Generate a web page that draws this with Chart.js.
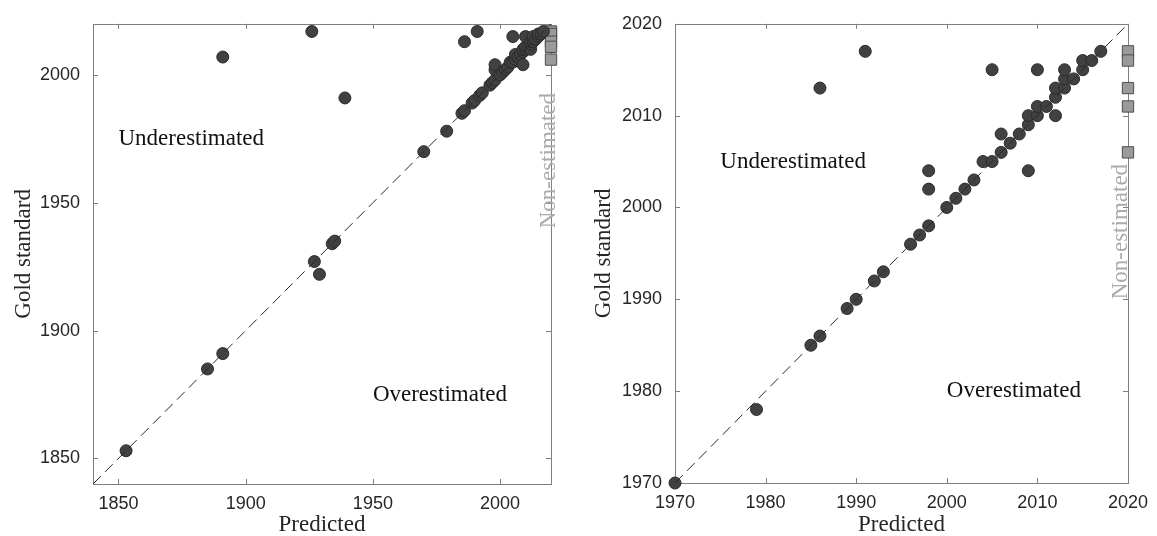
<!DOCTYPE html>
<html>
<head>
<meta charset="utf-8">
<script src="https://cdn.jsdelivr.net/npm/chart.js@4/dist/chart.umd.min.js"></script>
<style>
  html, body { margin: 0; padding: 0; background: #fff; }
  #wrap { position: relative; width: 1157px; height: 536px; }
  canvas { position: absolute; top: 0; }
</style>
</head>
<body>
<div id="wrap">
  <canvas id="leftChart" width="578" height="536" style="left:0"></canvas>
  <canvas id="rightChart" width="579" height="536" style="left:578px"></canvas>
</div>
<script>
// predicted year vs gold standard year, one entry per document
const predicted = [1853, 1885, 1891, 1891, 1926, 1927, 1929, 1934, 1935, 1939,
  1970, 1979, 1985, 1986, 1986, 1989, 1990, 1991, 1992, 1993,
  1996, 1997, 1998, 1998, 1998, 2000, 2001, 2002, 2003, 2004,
  2005, 2005, 2006, 2006, 2007, 2008, 2009, 2009, 2009, 2010,
  2010, 2010, 2011, 2012, 2012, 2012, 2013, 2013, 2013, 2014,
  2015, 2015, 2016, 2017];
const gold = [1853, 1885, 1891, 2007, 2017, 1927, 1922, 1934, 1935, 1991,
  1970, 1978, 1985, 1986, 2013, 1989, 1990, 2017, 1992, 1993,
  1996, 1997, 1998, 2002, 2004, 2000, 2001, 2002, 2003, 2005,
  2005, 2015, 2006, 2008, 2007, 2008, 2004, 2009, 2010, 2010,
  2011, 2015, 2011, 2010, 2012, 2013, 2013, 2014, 2015, 2014,
  2015, 2016, 2016, 2017];
// documents without a prediction, drawn on the right edge
const nonEstimatedGold = [2017, 2016, 2013, 2011, 2006];

const leftRange = [1840, 2020];
const rightRange = [1970, 2020];
const leftTicks = [1850, 1900, 1950, 2000];
const rightTicks = [1970, 1980, 1990, 2000, 2010, 2020];

const serif = '"Liberation Serif", "Times New Roman", serif';
const sans = '"Liberation Sans", Arial, sans-serif';

const framePlugin = {
  id: 'frame',
  beforeDatasetsDraw(chart, args, opts) {
    const { ctx, chartArea: a, scales: { x, y } } = chart;
    ctx.save();
    ctx.strokeStyle = '#7f7f7f';
    ctx.lineWidth = 1;
    ctx.strokeRect(Math.round(a.left) + 0.5, Math.round(a.top) + 0.5,
      Math.round(a.right - a.left), Math.round(a.bottom - a.top));
    ctx.beginPath();
    x.ticks.forEach(t => {
      const px = Math.round(x.getPixelForValue(t.value)) + 0.5;
      ctx.moveTo(px, a.bottom); ctx.lineTo(px, a.bottom - 5);
      ctx.moveTo(px, a.top); ctx.lineTo(px, a.top + 5);
    });
    y.ticks.forEach(t => {
      const py = Math.round(y.getPixelForValue(t.value)) + 0.5;
      ctx.moveTo(a.left, py); ctx.lineTo(a.left + 5, py);
      ctx.moveTo(a.right, py); ctx.lineTo(a.right - 5, py);
    });
    ctx.stroke();

    ctx.font = '23px ' + serif;
    (opts.notes || []).forEach(n => {
      const px = x.getPixelForValue(n.x);
      const py = y.getPixelForValue(n.y);
      ctx.fillStyle = n.color || '#111';
      ctx.textAlign = 'left';
      if (n.rotate) {
        ctx.save();
        ctx.translate(px, py);
        ctx.rotate(-Math.PI / 2);
        ctx.textBaseline = 'alphabetic';
        ctx.fillText(n.text, 0, 0);
        ctx.restore();
      } else {
        ctx.textBaseline = 'middle';
        ctx.fillText(n.text, px, py);
      }
    });
    ctx.restore();
  }
};

function axis(range, ticks, title, fitSize, isX, titlePad) {
  return {
    type: 'linear',
    position: isX ? 'bottom' : 'left',
    min: range[0],
    max: range[1],
    afterBuildTicks: s => { s.ticks = ticks.map(v => ({ value: v })); },
    afterFit: s => { if (isX) s.height = fitSize; else s.width = fitSize; },
    grid: { display: false, drawTicks: false },
    border: { display: false },
    ticks: {
      padding: isX ? 9 : 13,
      autoSkip: false,
      maxRotation: 0,
      color: '#262626',
      font: { family: sans, size: 18 },
      callback: v => String(v)
    },
    title: {
      display: true,
      text: title,
      color: '#262626',
      font: { family: serif, size: 23, lineHeight: 1 },
      padding: isX ? { top: 0, bottom: 0 } : { top: titlePad, bottom: 0 }
    }
  };
}

function makeChart(id, range, ticks, layout, notes) {
  const pts = [];
  predicted.forEach((p, i) => {
    const g = gold[i];
    if (p >= range[0] && p <= range[1] && g >= range[0] && g <= range[1]) {
      pts.push({ x: p, y: g });
    }
  });
  const squares = nonEstimatedGold.map(g => ({ x: range[1], y: g }));

  return new Chart(document.getElementById(id), {
    type: 'scatter',
    data: {
      datasets: [
        {
          type: 'line',
          data: [{ x: range[0], y: range[0] }, { x: range[1], y: range[1] }],
          borderColor: '#2a2a2a',
          borderWidth: 1,
          borderDash: [11, 6],
          pointRadius: 0,
          showLine: true,
          order: 0
        },
        {
          data: pts,
          backgroundColor: '#414141',
          borderColor: '#2b2b2b',
          borderWidth: 1,
          pointRadius: 6,
          clip: false,
          order: 1
        },
        {
          data: squares,
          pointStyle: 'rect',
          backgroundColor: '#9a9a9a',
          borderColor: '#4d4d4d',
          borderWidth: 1,
          pointRadius: 8,
          clip: false,
          order: 2
        }
      ]
    },
    options: {
      responsive: false,
      animation: false,
      events: [],
      layout: { padding: { top: 23, right: layout.right, left: 0, bottom: 0 } },
      plugins: {
        legend: { display: false },
        tooltip: { enabled: false },
        frame: { notes: notes }
      },
      scales: {
        x: axis(range, ticks, 'Predicted', layout.xHeight, true, 0),
        y: axis(range, ticks, 'Gold standard', layout.yWidth, false, layout.titlePad)
      }
    },
    plugins: [framePlugin]
  });
}

makeChart('leftChart', leftRange, leftTicks,
  { right: 27, xHeight: 52, yWidth: 93, titlePad: 12 },
  [
    { text: 'Underestimated', x: 1850, y: 1975 },
    { text: 'Overestimated', x: 1950, y: 1875 },
    { text: 'Non-estimated', x: 2021.5, y: 1940, rotate: true, color: '#ababab' }
  ]);

makeChart('rightChart', rightRange, rightTicks,
  { right: 22, xHeight: 53, yWidth: 97, titlePad: 14 },
  [
    { text: 'Underestimated', x: 1975, y: 2005 },
    { text: 'Overestimated', x: 2000, y: 1980 },
    { text: 'Non-estimated', x: 2019.9, y: 1990, rotate: true, color: '#ababab' }
  ]);
</script>
</body>
</html>
